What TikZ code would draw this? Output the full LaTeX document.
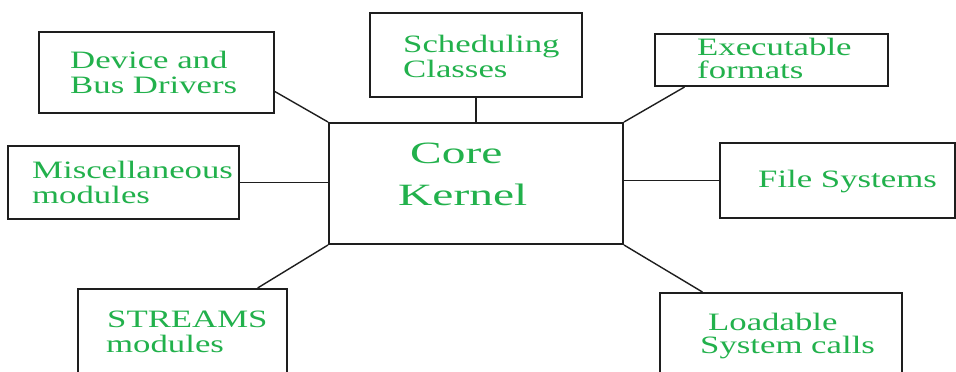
\documentclass[tikz,border=0pt]{standalone}
\usepackage{fontspec}
\setmainfont[FakeStretch=1.39]{Liberation Serif}
\newfontfamily\corefont[FakeStretch=1.53]{Liberation Serif}
\usetikzlibrary{calc}
\definecolor{txtgreen}{RGB}{34,177,76}
\definecolor{linegray}{RGB}{30,30,30}
\tikzset{
  box/.style={draw=linegray, line width=2bp, inner sep=0pt, rectangle},
  conn/.style={draw=linegray, line width=1.4bp},
  txt/.style={anchor=base west, inner sep=0pt, text=txtgreen, font=\fontsize{25bp}{25bp}\selectfont},
  bigtxt/.style={anchor=base west, inner sep=0pt, text=txtgreen, font=\corefont\fontsize{31bp}{40bp}\selectfont}
}
\begin{document}
\begin{tikzpicture}[x=1bp, y=-1bp]
\useasboundingbox (0,0) rectangle (956,371);
\clip (0,0) rectangle (956,371);
\fill[white] (0,0) rectangle (956,371);
% boxes
\node[box, minimum width=294bp, minimum height=121bp] (core) at (476,183.5) {};
\node[box, minimum width=212bp, minimum height=84bp] (sched) at (476,55) {};
\node[box, minimum width=235bp, minimum height=81bp] (dev) at (156.5,72.5) {};
\node[box, minimum width=231bp, minimum height=73bp] (misc) at (123.5,182.5) {};
\node[box, minimum width=233bp, minimum height=52bp] (exec) at (771.5,60) {};
\node[box, minimum width=235bp, minimum height=75bp] (file) at (837.5,180.5) {};
\node[box, minimum width=209bp, minimum height=100bp] (streams) at (182.5,339) {};
\node[box, minimum width=242bp, minimum height=100bp] (load) at (781,343) {};
% connectors
\draw[conn] (sched.south) -- (core.north);
\draw[conn] ($(dev.south east)!0.27!(dev.north east)$) -- (core.north west);
\draw[conn] ($(exec.south west)!0.13!(exec.south east)$) -- (core.north east);
\draw[conn] (misc.east) -- (misc.east -| core.west);
\draw[conn] (file.west) -- (file.west -| core.east);
\draw[conn] (core.south west) -- ($(streams.north west)!0.856!(streams.north east)$);
\draw[conn] (core.south east) -- ($(load.north west)!0.178!(load.north east)$);
% texts
\node[bigtxt] (coreT1) at (410,163) {Core};
\node[bigtxt] (coreT2) at (398,205) {Kernel};
\node[txt] (schedT1) at (403,52) {Scheduling};
\node[txt] (schedT2) at (403,77) {Classes};
\node[txt] (devT1) at (70,68) {Device and};
\node[txt] (devT2) at (70,93) {Bus Drivers};
\node[txt] (miscT1) at (32,178) {Miscellaneous};
\node[txt] (miscT2) at (32,203) {modules};
\node[txt] (execT1) at (697,55) {Executable};
\node[txt] (execT2) at (697,78) {formats};
\node[txt] (fileT) at (758,187) {File Systems};
\node[txt] (streamsT1) at (107,327) {STREAMS};
\node[txt] (streamsT2) at (106,352) {modules};
\node[txt] (loadT1) at (708,330) {Loadable};
\node[txt] (loadT2) at (700,353) {System calls};
\end{tikzpicture}
\end{document}
